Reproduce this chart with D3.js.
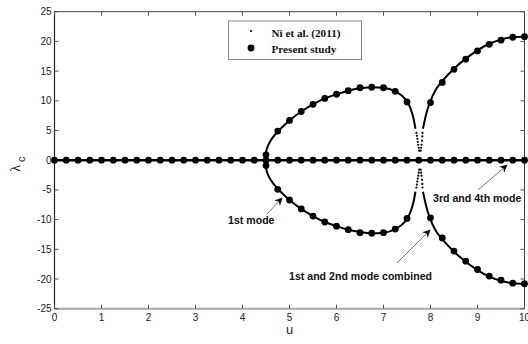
<!DOCTYPE html>
<html>
<head>
<meta charset="utf-8">
<script src="https://cdn.jsdelivr.net/npm/d3@7"></script>
<style>
  body { margin: 0; background: #fff; }
  svg { display: block; }
  .tick-label { font-family: "Liberation Sans", Arial, sans-serif; font-size: 10px; fill: #222; }
  .note { font-family: "Liberation Sans", Arial, sans-serif; font-size: 10.6px; font-weight: bold; fill: #111; }
  .legend-text { font-family: "Liberation Serif", "Times New Roman", serif; font-size: 11.2px; font-weight: bold; fill: #111; }
</style>
</head>
<body>
<svg id="chart" width="528" height="344"></svg>
<script>
// ---- data ----
const xTicks = [0, 1, 2, 3, 4, 5, 6, 7, 8, 9, 10];
const yTicks = [-25, -20, -15, -10, -5, 0, 5, 10, 15, 20, 25];

// Ni et al. (2011): solid curve parts (upper half, lower half is the mirror)
const niMode1U = [4.47, 4.49, 4.53, 4.6, 4.75, 5.0, 5.25, 5.5, 5.75, 6.0, 6.25, 6.5, 6.75, 7.0, 7.25, 7.4, 7.5, 7.58, 7.64, 7.68];
const niMode1L = [0, 1.0, 2.2, 3.3, 4.8, 6.7, 8.2, 9.4, 10.4, 11.1, 11.7, 12.1, 12.3, 12.2, 11.6, 10.8, 9.9, 8.6, 7.0, 5.3];
const niMode2U = [7.84, 7.88, 7.93, 8.0, 8.1, 8.25, 8.5, 8.75, 9.0, 9.25, 9.5, 9.75, 10];
const niMode2L = [5.3, 6.8, 8.4, 10.0, 11.7, 13.3, 15.4, 17.1, 18.5, 19.6, 20.3, 20.7, 20.8];
// Ni et al. (2011): sparse points near the coalescence
const niSteepU = [7.70, 7.71, 7.72, 7.73, 7.74, 7.75, 7.76, 7.79, 7.80, 7.81, 7.82, 7.825, 7.83];
const niSteepL = [4.6, 4.1, 3.6, 3.1, 2.6, 2.1, 1.6, 1.6, 2.1, 2.6, 3.3, 4.0, 4.6];
const niZeroU = [0, 10];
const niZeroL = [0, 0];

// Present study markers
const psZeroU = [0, 0.25, 0.5, 0.75, 1, 1.25, 1.5, 1.75, 2, 2.25, 2.5, 2.75, 3, 3.25, 3.5, 3.75, 4, 4.25, 4.5, 4.75,
                 5, 5.25, 5.5, 5.75, 6, 6.25, 6.5, 6.75, 7, 7.25, 7.5, 7.75, 8, 8.25, 8.5, 8.75, 9, 9.25, 9.5, 9.75, 10];
const psMode1U = [4.5, 4.75, 5.0, 5.25, 5.5, 5.75, 6.0, 6.25, 6.5, 6.75, 7.0, 7.25, 7.5];
const psMode1L = [0.9, 4.9, 6.7, 8.2, 9.4, 10.4, 11.1, 11.7, 12.2, 12.3, 12.2, 11.6, 9.8];
const psMode2U = [8.0, 8.25, 8.5, 8.75, 9.0, 9.25, 9.5, 9.75, 10];
const psMode2L = [9.7, 13.1, 15.3, 17.0, 18.4, 19.5, 20.2, 20.7, 20.8];

// ---- layout ----
const svg = d3.select('#chart');
const x = d3.scaleLinear().domain([0, 10]).range([54.5, 524.5]);
const y = d3.scaleLinear().domain([-25, 25]).range([308.7, 11.7]);

const zip = (us, ls, sign) => us.map((u, i) => ({ u: u, l: sign * ls[i] }));

// arrow head
svg.append('defs').append('marker')
    .attr('id', 'arrow')
    .attr('viewBox', '0 0 10 10')
    .attr('refX', 9).attr('refY', 5)
    .attr('markerWidth', 8).attr('markerHeight', 8)
    .attr('markerUnits', 'userSpaceOnUse')
    .attr('orient', 'auto')
    .append('path')
    .attr('d', 'M0,0 L10,5 L0,10 L3,5 Z')
    .attr('fill', '#111');

// frame
svg.append('rect')
    .attr('x', x(0)).attr('y', y(25))
    .attr('width', x(10) - x(0)).attr('height', y(-25) - y(25))
    .attr('fill', 'none').attr('stroke', '#444').attr('stroke-width', 1);
svg.append('line')
    .attr('x1', x(0)).attr('x2', x(10)).attr('y1', y(-25)).attr('y2', y(-25))
    .attr('stroke', '#aaa').attr('stroke-width', 2);
svg.append('line')
    .attr('x1', x(0)).attr('x2', x(0)).attr('y1', y(25)).attr('y2', y(-25))
    .attr('stroke', '#222').attr('stroke-width', 1.2);

// inward ticks on all four sides
const tickLen = 4;
const tickG = svg.append('g').attr('stroke', '#555').attr('stroke-width', 1);
xTicks.forEach(t => {
    tickG.append('line').attr('x1', x(t)).attr('x2', x(t)).attr('y1', y(-25)).attr('y2', y(-25) - tickLen);
    tickG.append('line').attr('x1', x(t)).attr('x2', x(t)).attr('y1', y(25)).attr('y2', y(25) + tickLen);
});
yTicks.forEach(t => {
    tickG.append('line').attr('x1', x(0)).attr('x2', x(0) + tickLen).attr('y1', y(t)).attr('y2', y(t));
    tickG.append('line').attr('x1', x(10)).attr('x2', x(10) - tickLen).attr('y1', y(t)).attr('y2', y(t));
});

svg.selectAll('.xlab').data(xTicks).enter().append('text')
    .attr('class', 'tick-label')
    .attr('x', d => x(d)).attr('y', y(-25) + 12.5)
    .attr('text-anchor', 'middle')
    .text(d => d);
svg.selectAll('.ylab').data(yTicks).enter().append('text')
    .attr('class', 'tick-label')
    .attr('x', x(0) - 3).attr('y', d => y(d) + 3.5)
    .attr('text-anchor', 'end')
    .text(d => d);

// axis titles
svg.append('text')
    .attr('x', x(5)).attr('y', 333.5)
    .attr('text-anchor', 'middle')
    .style('font-family', '"Liberation Sans", Arial, sans-serif')
    .style('font-size', '13px').style('fill', '#222')
    .text('u');
const yt = svg.append('text')
    .attr('transform', `translate(20,${y(0) + 4}) rotate(-90)`)
    .attr('text-anchor', 'middle')
    .style('font-family', '"Liberation Serif", "Times New Roman", serif')
    .style('font-size', '14px').style('fill', '#222');
yt.append('tspan').text('λ');
yt.append('tspan').attr('dy', 5).attr('dx', 3).style('font-size', '11px').style('font-family', '"Liberation Sans", Arial, sans-serif').text('c');

// Ni et al. curves
const line = d3.line().x(d => x(d.u)).y(d => y(d.l)).curve(d3.curveMonotoneX);
const niLines = [
    zip(niMode1U, niMode1L, 1), zip(niMode1U, niMode1L, -1),
    zip(niMode2U, niMode2L, 1), zip(niMode2U, niMode2L, -1)
];
svg.append('path')
    .attr('d', line(zip(niZeroU, niZeroL, 1)))
    .attr('fill', 'none').attr('stroke', '#000').attr('stroke-width', 2.6);
svg.append('g').selectAll('path').data(niLines).enter().append('path')
    .attr('d', line)
    .attr('fill', 'none').attr('stroke', '#000').attr('stroke-width', 2);

const niDots = zip(niSteepU, niSteepL, 1).concat(zip(niSteepU, niSteepL, -1));
svg.append('g').selectAll('circle').data(niDots).enter().append('circle')
    .attr('cx', d => x(d.u)).attr('cy', d => y(d.l)).attr('r', 1.1).attr('fill', '#000');

// Present study markers
const psDots = psZeroU.map(u => ({ u: u, l: 0 }))
    .concat(zip(psMode1U, psMode1L, 1), zip(psMode1U, psMode1L, -1))
    .concat(zip(psMode2U, psMode2L, 1), zip(psMode2U, psMode2L, -1));
svg.append('g').selectAll('circle').data(psDots).enter().append('circle')
    .attr('cx', d => x(d.u)).attr('cy', d => y(d.l)).attr('r', 3.4).attr('fill', '#000');

// annotations
const notes = [
    { text: '1st mode', tx: 228, ty: 224, x1: 267, y1: 214, x2: 282, y2: 198 },
    { text: '3rd and 4th mode', tx: 433, ty: 202, x1: 478, y1: 190, x2: 507, y2: 165 },
    { text: '1st and 2nd mode combined', tx: 289, ty: 280, x1: 397, y1: 263, x2: 430, y2: 230 }
];
notes.forEach(n => {
    svg.append('line')
        .attr('x1', n.x1).attr('y1', n.y1).attr('x2', n.x2).attr('y2', n.y2)
        .attr('stroke', '#555').attr('stroke-width', 0.8)
        .attr('marker-end', 'url(#arrow)');
    svg.append('text').attr('class', 'note').attr('x', n.tx).attr('y', n.ty).text(n.text);
});

// legend
const lg = svg.append('g');
lg.append('rect')
    .attr('x', 228.5).attr('y', 21).attr('width', 133).attr('height', 38.5)
    .attr('fill', '#fff').attr('stroke', '#888').attr('stroke-width', 1);
lg.append('circle').attr('cx', 251).attr('cy', 31).attr('r', 1.1).attr('fill', '#000');
lg.append('circle').attr('cx', 251).attr('cy', 48).attr('r', 3.4).attr('fill', '#000');
lg.append('text').attr('class', 'legend-text').attr('x', 271.5).attr('y', 36.5).text('Ni et al. (2011)');
lg.append('text').attr('class', 'legend-text').attr('x', 271.5).attr('y', 52.5).text('Present study');
</script>
</body>
</html>
